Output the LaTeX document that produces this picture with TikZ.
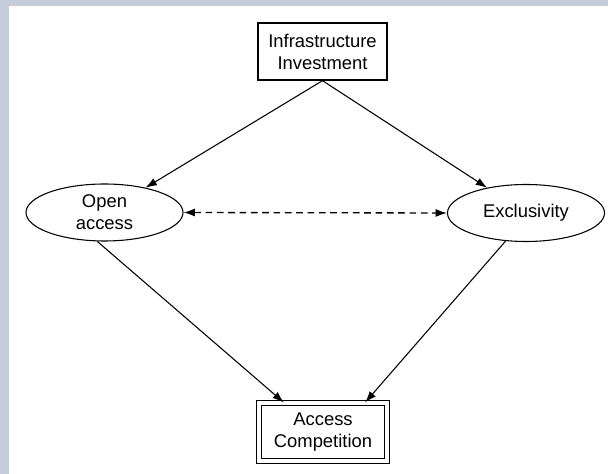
\documentclass[tikz,border=0pt]{standalone}
\usepackage{fontspec}
\setmainfont{Liberation Sans}
\usepackage{tikz}
\usetikzlibrary{shapes.geometric, arrows.meta}
\definecolor{frame}{RGB}{197,205,218}

\begin{document}
\begin{tikzpicture}[x=0.75pt, y=-0.75pt, line width=0.8pt, >={Latex[length=8.5pt, width=6pt]},
            every node/.style={font=\fontsize{13.8}{16.5}\selectfont, align=center},
            box/.style={draw, rectangle, line width=1pt, minimum width=96.75pt, minimum height=42.75pt, inner sep=0pt},
            oval/.style={draw, ellipse, minimum width=117.75pt, minimum height=42.75pt, inner sep=0pt}]
            \fill[frame](0, 0)rectangle(608, 474);
            \fill[white](9, 6)rectangle(608, 474);
            \node[box](inv)at(322.5, 51.5){Infrastructure\\Investment};
            \node[oval](open)at(104.5, 212.5){Open\\access};
            \node[oval](excl)at(526, 213){Exclusivity};
            \node[box, double, double distance=3.4pt, line width=0.8pt, minimum width=96pt, minimum height=43.5pt](acc)at(323, 432){Access\\Competition};
            \draw[->](inv.south)--(open);
            \draw[->](inv.south)--(excl);
            \draw[->](open.256)--(acc.143);
            \draw[->](excl.234)--(acc.35);
            \draw[<->, line width=1pt, dash pattern=on 5pt off 3.5pt](open.east)--(excl.west);
        \end{tikzpicture}
\end{document}
